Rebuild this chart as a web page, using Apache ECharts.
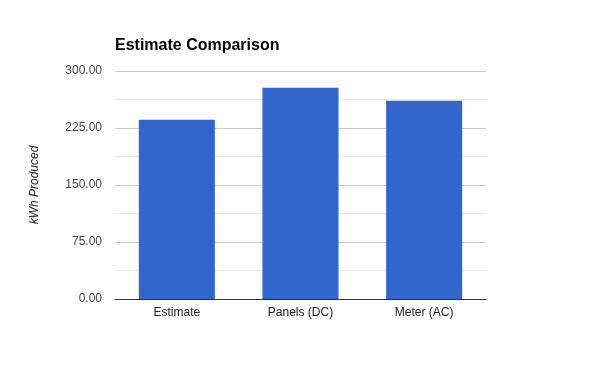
<!DOCTYPE html>
<html><head><meta charset="utf-8">
<script src="https://cdn.jsdelivr.net/npm/echarts@6/dist/echarts.min.js"></script>
<style>html,body{margin:0;padding:0;background:#fff}#c{width:600px;height:371px}</style>
</head><body><div id="c"></div>
<script>
const categories = ['Estimate', 'Panels (DC)', 'Meter (AC)'];
const values = [236, 278, 261];
const yTicks = [0, 75, 150, 225, 300];

const chart = echarts.init(document.getElementById('c'));
chart.setOption({
  animation: false,
  title: {
    text: 'Estimate Comparison', left: 115, top: 38, padding: 0,
    textStyle: { fontFamily: 'Liberation Sans, Arial', fontSize: 16, fontWeight: 'bold', color: '#000' }
  },
  grid: { left: 115, right: 114, top: 71, bottom: 72 },
  xAxis: {
    type: 'category', data: categories,
    axisLine: { lineStyle: { color: '#333' } },
    axisTick: { show: false },
    axisLabel: { fontFamily: 'Liberation Sans, Arial', fontSize: 12, color: '#222', margin: 8 }
  },
  yAxis: {
    type: 'value', min: yTicks[0], max: yTicks[yTicks.length - 1], interval: 75,
    name: 'kWh Produced', nameLocation: 'middle', nameGap: 74, nameRotate: 90,
    nameTextStyle: { fontFamily: 'Liberation Sans, Arial', fontSize: 12, fontStyle: 'italic', color: '#222' },
    axisLine: { show: false }, axisTick: { show: false },
    axisLabel: { fontFamily: 'Liberation Sans, Arial', fontSize: 12, color: '#444', margin: 13,
      formatter: v => v.toFixed(2) },
    splitLine: { lineStyle: { color: '#ccc' } },
    minorTick: { show: false, splitNumber: 2 },
    minorSplitLine: { show: true, lineStyle: { color: '#ebebeb' } }
  },
  series: [{
    type: 'bar', data: values, barWidth: '61.5%',
    itemStyle: { color: '#3366cc' }
  }]
});
</script></body></html>
